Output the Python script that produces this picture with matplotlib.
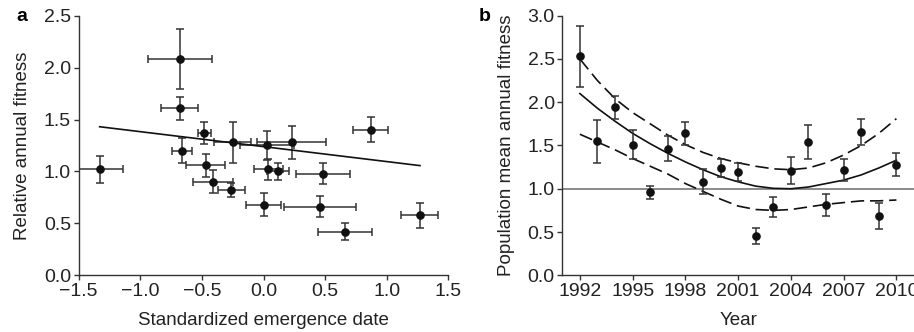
import numpy as np
import matplotlib
matplotlib.use("Agg")
import matplotlib.pyplot as plt

plt.rcParams["font.family"] = ["Liberation Sans", "DejaVu Sans"]

# --- panel a: relative fitness vs standardized emergence date ---
emerge_x = [-1.33, -0.68, -0.68, -0.48, -0.66, -0.25, -0.47, -0.41, -0.26, 0.03,
            0.23, 0.04, 0.12, 0.48, 0.00, 0.46, 0.66, 0.87, 1.27]
rel_fitness = [1.02, 2.08, 1.61, 1.37, 1.20, 1.28, 1.06, 0.90, 0.82, 1.25,
               1.28, 1.02, 1.00, 0.98, 0.68, 0.66, 0.42, 1.40, 0.58]
emerge_err = [0.19, 0.26, 0.15, 0.05, 0.08, 0.15, 0.16, 0.16, 0.11, 0.22,
              0.28, 0.12, 0.09, 0.22, 0.14, 0.29, 0.22, 0.14, 0.15]
rel_err = [0.13, 0.29, 0.11, 0.11, 0.12, 0.20, 0.11, 0.11, 0.07, 0.14,
           0.16, 0.10, 0.08, 0.10, 0.11, 0.10, 0.08, 0.12, 0.12]
fit_slope = -0.144
fit_intercept = 1.239

# --- panel b: population mean annual fitness per year ---
years = list(range(1992, 2011))
mean_fitness = [2.53, 1.55, 1.94, 1.51, 0.96, 1.46, 1.64, 1.08, 1.24, 1.19,
                0.45, 0.79, 1.21, 1.54, 0.81, 1.22, 1.66, 0.69, 1.28]
mean_err = [0.35, 0.25, 0.135, 0.165, 0.073, 0.145, 0.135, 0.146, 0.106, 0.104,
            0.094, 0.116, 0.16, 0.20, 0.128, 0.125, 0.15, 0.15, 0.13]
trend = [2.10, 1.93, 1.78, 1.64, 1.52, 1.41, 1.31, 1.22, 1.14, 1.08,
         1.03, 1.005, 1.00, 1.02, 1.06, 1.10, 1.16, 1.24, 1.33]
trend_upper = [2.50, 2.25, 2.04, 1.88, 1.75, 1.62, 1.51, 1.42, 1.35, 1.30,
               1.26, 1.23, 1.22, 1.24, 1.30, 1.39, 1.50, 1.64, 1.81]
trend_lower = [1.63, 1.54, 1.45, 1.35, 1.26, 1.17, 1.06, 0.97, 0.88, 0.80,
               0.76, 0.75, 0.76, 0.79, 0.82, 0.84, 0.86, 0.86, 0.87]

TXT = "#222222"
AXC = "#333333"
TICK_FS = 14
LABEL_FS = 13.5

fig = plt.figure(figsize=(9.14, 3.32), dpi=100)
ax_a = fig.add_axes([0.0861, 0.1708, 0.4044, 0.782])
ax_b = fig.add_axes([0.6152, 0.1708, 0.3848, 0.782])

for ax in (ax_a, ax_b):
    for s in ("top", "right"):
        ax.spines[s].set_visible(False)
    for s in ("left", "bottom"):
        ax.spines[s].set_color(AXC)
        ax.spines[s].set_linewidth(1.0)
    ax.tick_params(direction="out", length=3.5, width=1.0, color=AXC,
                   labelsize=TICK_FS, labelcolor=TXT, pad=2)

# panel a
ax_a.errorbar(emerge_x, rel_fitness, xerr=emerge_err, yerr=rel_err,
              fmt="o", ms=5.2, color="#111111", ecolor="#333333",
              elinewidth=1.1, capsize=3, capthick=1.1)
xx = np.array([min(emerge_x), max(emerge_x)])
ax_a.plot(xx, fit_intercept + fit_slope * xx, color="#111111", lw=1.2)
ax_a.set_xlim(-1.5, 1.5)
ax_a.set_ylim(0, 2.5)
ax_a.set_xticks(np.arange(-1.5, 1.51, 0.5))
ax_a.set_xticklabels(["\u22121.5", "\u22121.0", "\u22120.5", "0.0", "0.5", "1.0", "1.5"])
ax_a.set_yticks(np.arange(0, 2.51, 0.5))
ax_a.set_yticklabels([f"{v:.1f}" for v in np.arange(0, 2.51, 0.5)])
ax_a.set_xlabel("Standardized emergence date", fontsize=LABEL_FS, color=TXT, labelpad=9)
ax_a.set_ylabel("Relative annual fitness", fontsize=LABEL_FS, color=TXT, labelpad=9)
fig.text(0.018, 0.95, "a", fontsize=14, fontweight="bold", va="center")

# panel b
ax_b.axhline(1.0, color="#777777", lw=1.2, zorder=1)
ax_b.plot(years, trend, color="#111111", lw=1.2)
ax_b.plot(years, trend_upper, color="#111111", lw=1.2, dashes=(8, 3.5))
ax_b.plot(years, trend_lower, color="#111111", lw=1.2, dashes=(8, 3.5))
ax_b.errorbar(years, mean_fitness, yerr=mean_err, fmt="o", ms=5.2,
              color="#111111", ecolor="#333333", elinewidth=1.1,
              capsize=3, capthick=1.1)
ax_b.set_xlim(1991, 2011)
ax_b.set_ylim(0, 3.0)
ax_b.set_xticks(range(1992, 2011, 3))
ax_b.set_yticks(np.arange(0, 3.01, 0.5))
ax_b.set_yticklabels([f"{v:.1f}" for v in np.arange(0, 3.01, 0.5)])
ax_b.set_xlabel("Year", fontsize=LABEL_FS, color=TXT, labelpad=9)
ax_b.set_ylabel("Population mean annual fitness", fontsize=LABEL_FS, color=TXT, labelpad=9)
fig.text(0.524, 0.95, "b", fontsize=14, fontweight="bold", va="center")

fig.savefig("out.png", dpi=100)
